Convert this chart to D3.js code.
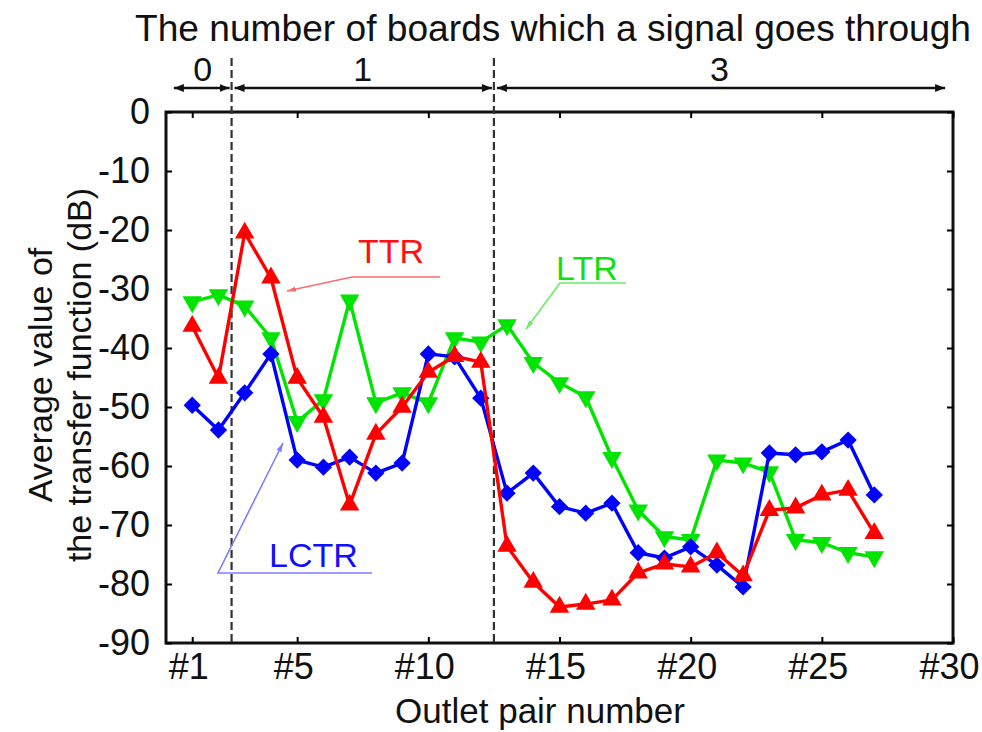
<!DOCTYPE html>
<html>
<head>
<meta charset="utf-8">
<script src="https://cdn.jsdelivr.net/npm/d3@7"></script>
<style>
  body { margin: 0; background: #fff; }
  svg { display: block; }
  text { font-family: "Liberation Sans", Arial, sans-serif; fill: #111; }
</style>
</head>
<body>
<svg id="chart" width="982" height="732"></svg>
<script>
// outlet pair numbers 1..27
var outlets = [1,2,3,4,5,6,7,8,9,10,11,12,13,14,15,16,17,18,19,20,21,22,23,24,25,26,27];

// average transfer function values (dB)
var ttr  = [-36.3,-45.1,-20.5,-28.1,-45.1,-51.7,-66.6,-54.6,-50.0,-44.1,-41.4,-42.4,-73.6,-79.7,-83.9,-83.4,-82.7,-78.1,-76.6,-77.1,-74.7,-78.6,-67.5,-67.1,-64.9,-64.1,-71.4];
var ltr  = [-32.2,-31.0,-32.9,-38.3,-52.5,-48.8,-31.9,-49.3,-47.6,-49.3,-38.3,-39.0,-36.1,-42.5,-45.9,-48.3,-58.6,-67.5,-72.0,-72.5,-59.0,-59.5,-61.0,-72.5,-73.0,-74.7,-75.4];
var lctr = [-49.7,-53.9,-47.6,-41.0,-59.0,-60.2,-58.5,-61.2,-59.5,-41.0,-41.5,-48.5,-64.6,-61.2,-66.9,-68.0,-66.3,-74.7,-75.6,-73.7,-76.8,-80.5,-57.8,-58.1,-57.6,-55.6,-64.9];

var xTicks = [1,5,10,15,20,25,30];
var yTicks = [0,-10,-20,-30,-40,-50,-60,-70,-80,-90];

// board groups along the top
var groupEdges  = [0.3, 2.5, 12.5, 29.7];
var groupLabels = ["0", "1", "3"];

var svg = d3.select("#chart");

var x = d3.scaleLinear().domain([0, 30]).range([166, 953]);
var y = d3.scaleLinear().domain([-90, 0]).range([643, 112]);

var defs = svg.append("defs");
defs.append("marker").attr("id", "ah").attr("viewBox", "0 0 10 10")
  .attr("refX", 10).attr("refY", 5).attr("markerWidth", 10).attr("markerHeight", 10)
  .attr("markerUnits", "userSpaceOnUse").attr("orient", "auto-start-reverse")
  .append("path").attr("d", "M0,1 L10,5 L0,9 Z").attr("fill", "#111");

function thinHead(id, col) {
  defs.append("marker").attr("id", id).attr("viewBox", "0 0 10 10")
    .attr("refX", 10).attr("refY", 5).attr("markerWidth", 9).attr("markerHeight", 9)
    .attr("markerUnits", "userSpaceOnUse").attr("orient", "auto")
    .append("path").attr("d", "M0,2 L10,5 L0,8 Z").attr("fill", col);
}
thinHead("hr", "#ff6b6b");
thinHead("hg", "#66ee66");
thinHead("hb", "#7d7dff");

// frame + ticks
svg.append("rect").attr("x", x(0)).attr("y", y(0))
  .attr("width", x(30) - x(0)).attr("height", y(-90) - y(0))
  .attr("fill", "none").attr("stroke", "#111").attr("stroke-width", 3);

svg.append("g").attr("transform", "translate(0," + y(-90) + ")")
  .call(d3.axisBottom(x).tickValues(xTicks).tickSize(-6).tickPadding(10).tickFormat(function(d){ return "#" + d; }))
  .call(function(g){
    g.select(".domain").remove();
    g.selectAll("line").attr("stroke-width", 2);
    g.selectAll("text").attr("font-size", 36).attr("fill", "#111").attr("dx", -4);
  });
svg.append("g").attr("transform", "translate(0," + y(0) + ")")
  .call(d3.axisTop(x).tickValues(xTicks).tickSize(-6).tickFormat(""))
  .call(function(g){ g.select(".domain").remove(); g.selectAll("line").attr("stroke-width", 2); });
svg.append("g").attr("transform", "translate(" + x(0) + ",0)")
  .call(d3.axisLeft(y).tickValues(yTicks).tickSize(-6).tickPadding(16).tickFormat(function(d){ return String(d); }))
  .call(function(g){ g.select(".domain").remove(); g.selectAll("line").attr("stroke-width", 2); g.selectAll("text").attr("font-size", 36).attr("fill", "#111"); });
svg.append("g").attr("transform", "translate(" + x(30) + ",0)")
  .call(d3.axisRight(y).tickValues(yTicks).tickSize(-6).tickFormat(""))
  .call(function(g){ g.select(".domain").remove(); g.selectAll("line").attr("stroke-width", 2); });

// dashed group separators
[groupEdges[1], groupEdges[2]].forEach(function(v) {
  svg.append("line").attr("x1", x(v)).attr("x2", x(v)).attr("y1", 58).attr("y2", y(-90))
    .attr("stroke", "#333").attr("stroke-width", 2.2).attr("stroke-dasharray", "8,4");
});

// group arrows
groupLabels.forEach(function(lab, i) {
  var a = x(groupEdges[i]) + (i > 0 ? 3 : 0), b = x(groupEdges[i + 1]) - (i < 2 ? 2 : 0);
  svg.append("line").attr("x1", a).attr("x2", b).attr("y1", 88).attr("y2", 88)
    .attr("stroke", "#111").attr("stroke-width", 2.5)
    .attr("marker-start", "url(#ah)").attr("marker-end", "url(#ah)");
  svg.append("text").attr("x", (x(groupEdges[i]) + x(groupEdges[i + 1])) / 2).attr("y", 81)
    .attr("text-anchor", "middle").attr("font-size", 34).text(lab);
});

svg.append("text").attr("x", 553).attr("y", 41).attr("text-anchor", "middle")
  .attr("font-size", 36).attr("textLength", 836).attr("lengthAdjust", "spacingAndGlyphs")
  .text("The number of boards which a signal goes through");

// axis titles
svg.append("text").attr("x", 540).attr("y", 723).attr("text-anchor", "middle")
  .attr("font-size", 35).text("Outlet pair number");
svg.append("text").attr("transform", "translate(52,375) rotate(-90)").attr("text-anchor", "middle")
  .attr("font-size", 34).text("Average value of");
svg.append("text").attr("transform", "translate(91,375) rotate(-90)").attr("text-anchor", "middle")
  .attr("font-size", 34).text("the transfer function (dB)");

// series
var series = [
  { name: "LTR",  vals: ltr,  color: "#00e400", sym: d3.symbolTriangle, rot: 180, size: 165 },
  { name: "LCTR", vals: lctr, color: "#0000ff", sym: d3.symbolSquare,   rot: 45,  size: 150 },
  { name: "TTR",  vals: ttr,  color: "#ff0000", sym: d3.symbolTriangle, rot: 0,   size: 165 }
];

var line = d3.line().x(function(d){ return x(d[0]); }).y(function(d){ return y(d[1]); });

series.forEach(function(s) {
  var pts = outlets.map(function(o, i){ return [o, s.vals[i]]; });
  svg.append("path").datum(pts).attr("d", line)
    .attr("fill", "none").attr("stroke", s.color).attr("stroke-width", 3.4).attr("stroke-linejoin", "round");
  svg.append("g").selectAll("path").data(pts).join("path")
    .attr("d", d3.symbol().type(s.sym).size(s.size))
    .attr("transform", function(d){ return "translate(" + x(d[0]) + "," + y(d[1]) + ") rotate(" + s.rot + ")"; })
    .attr("fill", s.color);
});

// annotations
function note(txt, col, tcol, tx, ty, path, head) {
  svg.append("path").attr("d", d3.line()(path)).attr("fill", "none")
    .attr("stroke", col).attr("stroke-width", 1.6).attr("marker-end", "url(#" + head + ")");
  svg.append("text").attr("x", tx).attr("y", ty).attr("font-size", 34).style("fill", tcol).text(txt);
}
note("TTR",  "#ff6b6b", "#ff1010", 358, 263, [[440, 277], [352, 277], [287, 291]], "hr");
note("LTR",  "#66ee66", "#10e010", 556, 280, [[626, 283], [560, 283], [526, 329]], "hg");
note("LCTR", "#7d7dff", "#1010ff", 269, 567, [[372, 573], [218, 573], [283, 443]], "hb");
</script>
</body>
</html>
